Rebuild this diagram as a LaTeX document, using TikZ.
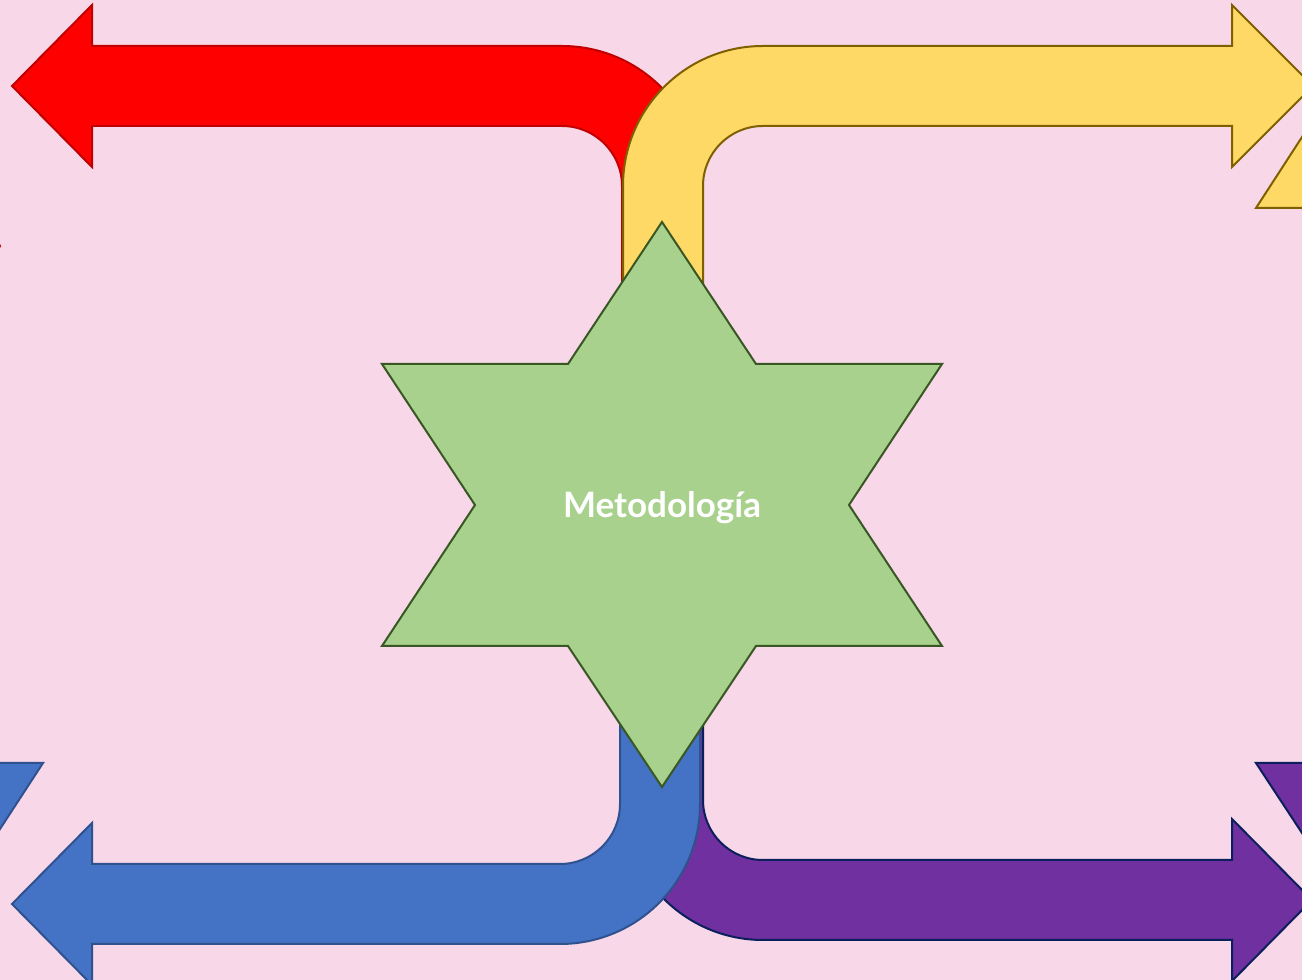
\documentclass[tikz,border=0pt]{standalone}
\usepackage{fontspec}
\setmainfont{Lato}
\definecolor{bgpink}{HTML}{F7D7E8}
\definecolor{redfill}{HTML}{FF0000}
\definecolor{redline}{HTML}{C00000}
\definecolor{yelfill}{HTML}{FFD966}
\definecolor{yelline}{HTML}{7F6000}
\definecolor{bluefill}{HTML}{4472C4}
\definecolor{blueline}{HTML}{2F528F}
\definecolor{purfill}{HTML}{7030A0}
\definecolor{purline}{HTML}{0A1F5C}
\definecolor{starfill}{HTML}{A9D18E}
\definecolor{starline}{HTML}{385723}
\tikzset{
  redarrow/.style={fill=redfill,draw=redline,line width=2pt,line join=miter},
  yelarrow/.style={fill=yelfill,draw=yelline,line width=2pt,line join=miter},
  bluearrow/.style={fill=bluefill,draw=blueline,line width=2pt,line join=miter},
  purarrow/.style={fill=purfill,draw=purline,line width=2pt,line join=miter},
  starshape/.style={fill=starfill,draw=starline,line width=2pt,line join=miter},
  labeltext/.style={text=white,font=\fontsize{35}{41}\selectfont\bfseries,inner sep=0pt}
}
\begin{document}
\begin{tikzpicture}[x=1pt,y=1pt]
\useasboundingbox (0,0) rectangle (1302,980);
\fill[bgpink] (0,0) rectangle (1302,980);
\clip (0,0) rectangle (1302,980);
% partial shapes at edges
\draw[redarrow] (-20,700) -- (0,734) -- (-20,768) -- cycle;
\draw[yelarrow] (1256,772) -- (1350,917) -- (1350,772) -- cycle;
\draw[bluearrow] (43,217) -- (-43,85) -- (-43,217) -- cycle;
\draw[purarrow] (1256,217) -- (1348,77) -- (1348,217) -- cycle;
% red arrow (top left)
\draw[redarrow] (92,934) -- (562,934) arc[start angle=90,end angle=0,radius=140pt]
  -- (702,560) -- (622,560) -- (622,794) arc[start angle=0,end angle=90,radius=60pt]
  -- (92,854) -- (92,813) -- (12,894) -- (92,975) -- cycle;
% yellow arrow (top right)
\draw[yelarrow] (1232,934) -- (763,934) arc[start angle=90,end angle=180,radius=140pt]
  -- (623,560) -- (703,560) -- (703,794) arc[start angle=180,end angle=90,radius=60pt]
  -- (1232,854) -- (1232,813) -- (1313,894) -- (1232,975) -- cycle;
% purple arrow (bottom right)
\draw[purarrow] (1232,120) -- (763,120) arc[start angle=270,end angle=180,radius=60pt]
  -- (703,420) -- (623,420) -- (623,180) arc[start angle=180,end angle=270,radius=140pt]
  -- (1232,40) -- (1232,-1) -- (1312,80) -- (1232,161) -- cycle;
% blue arrow (bottom left)
\draw[bluearrow] (92,116) -- (560,116) arc[start angle=270,end angle=360,radius=60pt]
  -- (620,420) -- (700,420) -- (700,176) arc[start angle=0,end angle=-90,radius=140pt]
  -- (92,36) -- (92,-5) -- (12,76) -- (92,157) -- cycle;
% star
\draw[starshape] (662,758) -- (756,616) -- (942,616) -- (849,475) -- (942,334)
  -- (756,334) -- (662,193) -- (568,334) -- (382,334) -- (475,475)
  -- (382,616) -- (568,616) -- cycle;
\node[labeltext,anchor=base] (label) at (662,462) {Metodología};
\end{tikzpicture}
\end{document}
